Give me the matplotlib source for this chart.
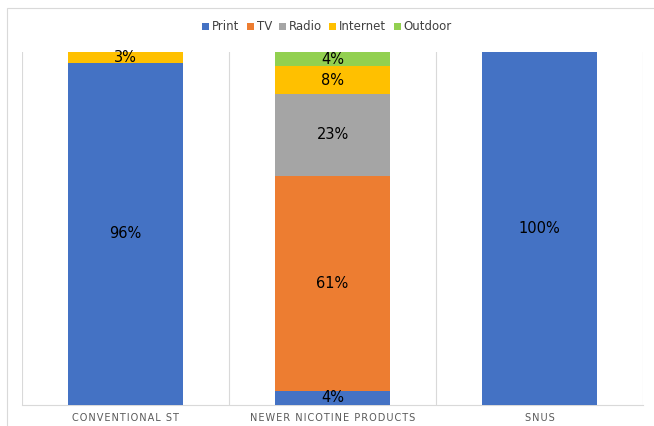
import matplotlib
matplotlib.use("Agg")
import matplotlib.pyplot as plt
from matplotlib.patches import Rectangle
import numpy as np

categories = ["CONVENTIONAL ST", "NEWER NICOTINE PRODUCTS", "SNUS"]
series = ["Print", "TV", "Radio", "Internet", "Outdoor"]
print_vals = [96, 4, 100]
tv_vals = [0, 61, 0]
radio_vals = [0, 23, 0]
internet_vals = [3, 8, 0]
outdoor_vals = [0, 4, 0]
colors = ["#4472C4", "#ED7D31", "#A5A5A5", "#FFC000", "#92D050"]

data = np.array([print_vals, tv_vals, radio_vals, internet_vals, outdoor_vals], dtype=float)
totals = data.sum(axis=0)
shares = data / totals * 100

W, H = 654, 426
fig = plt.figure(figsize=(W / 100, H / 100), dpi=100)
ax = fig.add_axes([22 / W, 1 - 405 / H, (643 - 22) / W, (405 - 52) / H])

x = np.arange(len(categories))
bottom = np.zeros(len(categories))
for i, name in enumerate(series):
    ax.bar(x, shares[i], bottom=bottom, width=0.56, color=colors[i], label=name, zorder=3)
    for j in range(len(categories)):
        if data[i, j] > 0:
            ax.text(x[j], bottom[j] + shares[i, j] / 2, f"{data[i, j]:.0f}%",
                    ha="center", va="center", fontsize=10.5, color="#000000", zorder=4)
    bottom += shares[i]

ax.set_xlim(-0.5, len(categories) - 0.5)
ax.set_ylim(0, 100)
ax.set_yticks([])
ax.set_xticks(x)
spaced = ["\u200a".join(list(c)) for c in categories]
ax.set_xticklabels(spaced, fontsize=7, color="#595959")
ax.tick_params(axis="x", length=0, pad=6)
for s in ["top", "right", "left"]:
    ax.spines[s].set_visible(False)
ax.spines["bottom"].set_color("#D9D9D9")
for b in [-0.5, 0.5, 1.5, 2.5]:
    ax.axvline(b, color="#D9D9D9", lw=0.8, zorder=1)

fig.legend(loc="center", bbox_to_anchor=(0.5, 1 - 27 / H), ncol=5, frameon=False,
           fontsize=8.5, handlelength=0.6, handleheight=0.6, handletextpad=0.25,
           columnspacing=0.6, labelcolor="#404040")

fig.patches.append(Rectangle((7 / W, -0.05), 1.1, 1 - 8 / H + 0.05, transform=fig.transFigure,
                             fill=False, edgecolor="#D9D9D9", lw=0.8))

fig.savefig("out.png", dpi=100)
